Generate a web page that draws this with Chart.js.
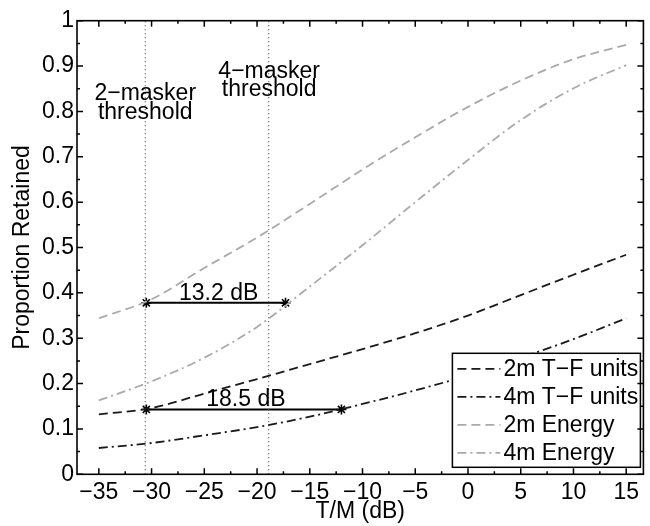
<!DOCTYPE html>
<html>
<head>
<meta charset="utf-8">
<script src="https://cdn.jsdelivr.net/npm/chart.js@4/dist/chart.umd.min.js"></script>
<style>
  html, body { margin: 0; padding: 0; background: #fff; }
  #wrap { width: 650px; height: 526px; }
</style>
</head>
<body>
<div id="wrap"><canvas id="c" width="650" height="526"></canvas></div>
<script>
// T/M values (dB) and proportion retained
var tmX  = [-35, -30, -25, -20, -15, -10, -5, 0, 5, 10, 15];
var tf2m = [0.132, 0.146, 0.178, 0.210, 0.243, 0.276, 0.311, 0.350, 0.395, 0.440, 0.484];
var tf4m = [0.058, 0.069, 0.086, 0.104, 0.127, 0.155, 0.185, 0.218, 0.257, 0.298, 0.344];
var en2m = [0.344, 0.386, 0.455, 0.522, 0.596, 0.672, 0.743, 0.810, 0.868, 0.915, 0.947];
var en4m = [0.163, 0.205, 0.257, 0.325, 0.414, 0.505, 0.600, 0.693, 0.781, 0.851, 0.902];

var seriesNames = ['2m T\u2212F units', '4m T\u2212F units', '2m Energy', '4m Energy'];

// thresholds and the dB gaps between them
var thresholdX = [-30.6, -18.9];
var gapY     = [0.378, 0.143];
var gapFrom  = [-30.5, -30.5];
var gapTo    = [-17.3, -12.0];
var gapText  = ['13.2 dB', '18.5 dB'];

var xTicks = [-35, -30, -25, -20, -15, -10, -5, 0, 5, 10, 15];
var yTicks = [0, 0.1, 0.2, 0.3, 0.4, 0.5, 0.6, 0.7, 0.8, 0.9, 1];

var FONT = 'Liberation Sans, Arial, Helvetica, sans-serif';
Chart.defaults.font.family = FONT;
Chart.defaults.font.size = 23;
Chart.defaults.color = '#000';

function pts(ys) {
  return tmX.map(function(x, i) { return { x: x, y: ys[i] }; });
}

var BLACK = '#1a1a1a', GRAY = '#aaaaaa';
var DASH = [9, 5], DASHDOT = [9, 4, 2, 4];

function curve(label, ys, color, dash) {
  return {
    label: label, data: pts(ys), showLine: true,
    borderColor: color, borderWidth: 1.8, borderDash: dash,
    pointRadius: 0, cubicInterpolationMode: 'monotone', fill: false
  };
}

var datasets = [
  curve(seriesNames[0], tf2m, BLACK, DASH),
  curve(seriesNames[1], tf4m, BLACK, DASHDOT),
  curve(seriesNames[2], en2m, GRAY, DASH),
  curve(seriesNames[3], en4m, GRAY, DASHDOT)
];

thresholdX.forEach(function(x) {
  datasets.push({
    label: '', data: [{ x: x, y: 0 }, { x: x, y: 1 }], showLine: true,
    borderColor: '#555', borderWidth: 1.2, borderDash: [1, 3], pointRadius: 0
  });
});

gapY.forEach(function(y, i) {
  datasets.push({
    label: '', data: [{ x: gapFrom[i], y: y }, { x: gapTo[i], y: y }], showLine: true,
    borderColor: '#000', borderWidth: 2, pointStyle: 'star', pointRadius: 5,
    pointBorderColor: '#000', pointBorderWidth: 1.6, pointBackgroundColor: '#000'
  });
});

// text notes on the plot, anchored in data units
var notes = [
  { t: '2\u2212masker', x: -30.6, y: 0.825 },
  { t: 'threshold',     x: -30.6, y: 0.784 },
  { t: '4\u2212masker', x: -18.85, y: 0.8726 },
  { t: 'threshold',     x: -18.85, y: 0.8342 },
  { t: gapText[0],      x: -23.64, y: 0.384 },
  { t: gapText[1],      x: -21.06, y: 0.151 }
];

var extras = {
  id: 'extras',
  afterDatasetsDraw: function(chart) {
    var ctx = chart.ctx, a = chart.chartArea;
    var xs = chart.scales.x, ys = chart.scales.y;
    ctx.save();

    // notes
    ctx.font = '23px ' + FONT;
    ctx.fillStyle = '#000';
    ctx.textAlign = 'center';
    ctx.textBaseline = 'alphabetic';
    notes.forEach(function(n) {
      ctx.fillText(n.t, xs.getPixelForValue(n.x), ys.getPixelForValue(n.y));
    });

    // legend box
    var bw = 188, bh = 114;
    var bx = a.right - 3 - bw, by = a.bottom - 7 - bh;
    ctx.fillStyle = '#fff';
    ctx.fillRect(bx, by, bw, bh);
    ctx.strokeStyle = '#000';
    ctx.lineWidth = 1.5;
    ctx.setLineDash([]);
    ctx.strokeRect(bx, by, bw, bh);
    ctx.textAlign = 'left';
    ctx.textBaseline = 'middle';
    for (var i = 0; i < 4; i++) {
      var ds = chart.data.datasets[i];
      var cy = by + 15.5 + i * 28;
      ctx.strokeStyle = ds.borderColor;
      ctx.lineWidth = ds.borderWidth;
      ctx.setLineDash(ds.borderDash);
      ctx.beginPath();
      ctx.moveTo(bx + 5, cy);
      ctx.lineTo(bx + 48, cy);
      ctx.stroke();
      ctx.setLineDash([]);
      ctx.fillStyle = '#000';
      ctx.fillText(ds.label, bx + 51, cy + 1);
    }

    // axes box with inward ticks (major + minor)
    ctx.strokeStyle = '#000';
    ctx.lineWidth = 1.6;
    ctx.strokeRect(a.left, a.top, a.right - a.left, a.bottom - a.top);
    ctx.lineWidth = 1.5;
    ctx.beginPath();
    for (var v = -35; v <= 15; v += 2.5) {
      var px = xs.getPixelForValue(v);
      var len = (v % 5 === 0) ? 6 : 3;
      ctx.moveTo(px, a.bottom); ctx.lineTo(px, a.bottom - len);
      ctx.moveTo(px, a.top);    ctx.lineTo(px, a.top + len);
    }
    for (var k = 0; k <= 20; k++) {
      var py = ys.getPixelForValue(k * 0.05);
      var l2 = (k % 2 === 0) ? 6 : 3;
      ctx.moveTo(a.left, py);  ctx.lineTo(a.left + l2, py);
      ctx.moveTo(a.right, py); ctx.lineTo(a.right - l2, py);
    }
    ctx.stroke();
    ctx.restore();
  }
};

new Chart(document.getElementById('c'), {
  type: 'scatter',
  data: { datasets: datasets },
  options: {
    responsive: false,
    animation: false,
    events: [],
    layout: { padding: { top: 20.7, right: 1, left: 0, bottom: 0 } },
    plugins: { legend: { display: false }, tooltip: { enabled: false } },
    scales: {
      x: {
        type: 'linear', min: -37.07, max: 16.63,
        afterBuildTicks: function(s) { s.ticks = xTicks.map(function(v) { return { value: v }; }); },
        afterFit: function(s) { s.height = 51.7; },
        grid: { display: false, drawTicks: false },
        border: { display: false },
        ticks: {
          padding: 5, maxRotation: 0, autoSkip: false,
          callback: function(v) { return String(v).replace('-', '\u2212'); }
        },
        title: { display: true, text: 'T/M (dB)', padding: { top: 0, bottom: 1 } }
      },
      y: {
        type: 'linear', min: 0, max: 1,
        afterBuildTicks: function(s) { s.ticks = yTicks.map(function(v) { return { value: v }; }); },
        afterFit: function(s) { s.width = 77; },
        grid: { display: false, drawTicks: false },
        border: { display: false },
        ticks: {
          padding: 3, autoSkip: false,
          callback: function(v) { return String(Math.round(v * 10) / 10); }
        },
        title: { display: true, text: 'Proportion Retained', padding: { top: 9, bottom: 0 } }
      }
    }
  },
  plugins: [extras]
});
</script>
</body>
</html>
